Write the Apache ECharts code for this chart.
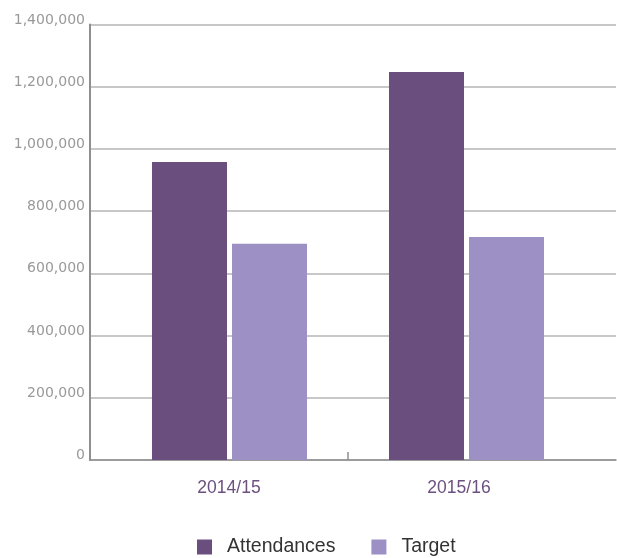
<!DOCTYPE html>
<html>
<head>
<meta charset="utf-8">
<style>
  html, body { margin: 0; padding: 0; background: #ffffff; }
  #chart { width: 617px; height: 558px; }
</style>
<script src="https://cdn.jsdelivr.net/npm/echarts@6/dist/echarts.min.js"></script>
</head>
<body>
<div id="chart"></div>
<script>
// Yearly attendances against target
const years = ['2014/15', '2015/16'];
const attendances = [958000, 1247000];
const target = [695000, 717000];
const yTicks = [0, 200000, 400000, 600000, 800000, 1000000, 1200000, 1400000];

const seriesNames = ['Attendances', 'Target'];
const colors = ['#6A4F7E', '#9D90C4'];

const yMin = yTicks[0];
const yMax = yTicks[yTicks.length - 1];
const yStep = yTicks[1] - yTicks[0];

const fmt = v => v.toLocaleString('en-US');

const chart = echarts.init(document.getElementById('chart'), null, { renderer: 'canvas' });

const plotTop = 24.5;
const plotBottom = 98;

const option = {
  animation: false,
  backgroundColor: '#ffffff',
  grid: [
    // frame: gridlines, value labels, axis lines
    { left: 90, right: 1, top: plotTop, bottom: plotBottom },
    // bars
    { left: 111, width: 474, top: plotTop, bottom: plotBottom },
    // category labels
    { left: 114, width: 460, top: plotTop, bottom: plotBottom }
  ],
  xAxis: [
    {
      gridIndex: 0, type: 'category', data: years,
      axisLine: { show: true, lineStyle: { color: '#8f8f8f', width: 1.5 } },
      axisTick: { show: false }, axisLabel: { show: false }, splitLine: { show: false }
    },
    {
      gridIndex: 1, type: 'category', data: years,
      axisLine: { show: false }, axisTick: { show: false },
      axisLabel: { show: false }, splitLine: { show: false }
    },
    {
      gridIndex: 2, type: 'category', data: years,
      axisLine: { show: false }, axisTick: { show: false }, splitLine: { show: false },
      axisLabel: {
        show: true, margin: 19, color: '#6B5080',
        fontFamily: 'Liberation Sans', fontSize: 17.5
      }
    }
  ],
  yAxis: [
    {
      gridIndex: 0, type: 'value', min: yMin, max: yMax, interval: yStep,
      axisLine: { show: true, lineStyle: { color: '#8f8f8f', width: 2 } },
      axisTick: { show: false },
      splitLine: { show: true, lineStyle: { color: '#b4b4b4', width: 1.5 } },
      axisLabel: {
        show: true, margin: 5, color: '#999999',
        fontFamily: 'DejaVu Sans', fontSize: 14,
        verticalAlign: 'bottom', lineHeight: 9,
        formatter: fmt
      }
    },
    {
      gridIndex: 1, type: 'value', min: yMin, max: yMax, interval: yStep,
      show: false
    },
    {
      gridIndex: 2, type: 'value', min: yMin, max: yMax, interval: yStep,
      show: false
    }
  ],
  legend: {
    data: seriesNames,
    left: 197, top: 537,
    padding: 0,
    icon: 'rect',
    itemWidth: 15, itemHeight: 15,
    itemGap: 36,
    textStyle: {
      color: '#333333', fontFamily: 'Liberation Sans', fontSize: 19.5,
      padding: [0, 0, 0, 10]
    }
  },
  series: [
    {
      name: seriesNames[0], type: 'bar', xAxisIndex: 1, yAxisIndex: 1,
      data: attendances, barWidth: 75, barGap: '6.67%',
      itemStyle: { color: colors[0] }
    },
    {
      name: seriesNames[1], type: 'bar', xAxisIndex: 1, yAxisIndex: 1,
      data: target, barWidth: 75, barGap: '6.67%',
      itemStyle: { color: colors[1] }
    }
  ]
};

chart.setOption(option);

// Single divider tick on the x axis, halfway between the two year groups
const c0 = chart.convertToPixel({ xAxisIndex: 1 }, years[0]);
const c1 = chart.convertToPixel({ xAxisIndex: 1 }, years[1]);
const y0 = chart.convertToPixel({ yAxisIndex: 1 }, 0);
const midX = Math.round((c0 + c1) / 2);
chart.setOption({
  graphic: [{
    type: 'line',
    shape: { x1: midX, y1: y0, x2: midX, y2: y0 - 8 },
    style: { stroke: '#8f8f8f', lineWidth: 1.5 },
    silent: true
  }]
});
</script>
</body>
</html>
